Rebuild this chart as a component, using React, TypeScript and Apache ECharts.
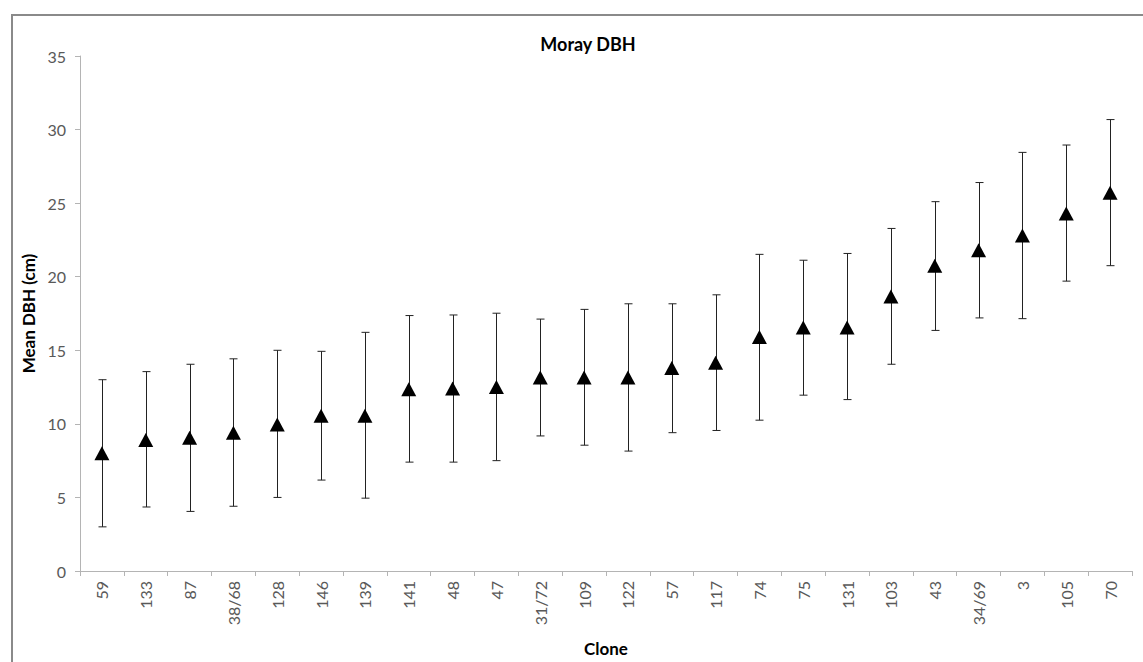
import React, { useEffect, useRef } from "react";
import * as echarts from "echarts";

const clones = ["59", "133", "87", "38/68", "128", "146", "139", "141", "48", "47", "31/72", "109", "122", "57", "117", "74", "75", "131", "103", "43", "34/69", "3", "105", "70"];
const meanDBH = [8.0, 8.9, 9.05, 9.4, 9.95, 10.55, 10.55, 12.35, 12.4, 12.5, 13.15, 13.15, 13.15, 13.8, 14.15, 15.9, 16.55, 16.55, 18.65, 20.75, 21.8, 22.8, 24.3, 25.7];
const lowerDBH = [3.0, 4.35, 4.05, 4.4, 5.0, 6.18, 4.95, 7.4, 7.4, 7.5, 9.18, 8.55, 8.15, 9.4, 9.55, 10.25, 11.95, 11.65, 14.05, 16.35, 17.2, 17.15, 19.7, 20.75];
const upperDBH = [13.0, 13.55, 14.05, 14.42, 15.0, 14.93, 16.22, 17.36, 17.4, 17.52, 17.12, 17.78, 18.16, 18.16, 18.77, 21.52, 21.12, 21.58, 23.28, 25.1, 26.4, 28.45, 28.95, 30.68];
const yTicks = { min: 0, max: 35, interval: 5 };

const FONT = "Lato, 'Open Sans', sans-serif";

export default function App() {
  const ref = useRef<HTMLDivElement>(null);
  useEffect(() => {
    if (!ref.current) return;
    const chart = echarts.init(ref.current, undefined, { renderer: "svg" });
    const errData = clones.map((_, i) => [i, lowerDBH[i], upperDBH[i]]);
    chart.setOption({
      animation: false,
      backgroundColor: "#ffffff",
      textStyle: { fontFamily: FONT },
      title: {
        text: "Moray DBH",
        left: 583,
        top: 30,
        textAlign: "center",
        textStyle: { fontFamily: FONT, fontSize: 18, fontWeight: "bold", color: "#000" },
      },
      graphic: [
        {
          type: "rect",
          shape: { x: 12, y: 15, width: 1200, height: 700 },
          style: { fill: "none", stroke: "#8a8a8a", lineWidth: 2 },
          silent: true,
        },
      ],
      grid: { left: 80, right: 11, top: 56, bottom: 83, containLabel: false },
      xAxis: {
        type: "category",
        data: clones,
        boundaryGap: true,
        name: "Clone",
        nameLocation: "middle",
        nameGap: 69,
        nameTextStyle: { fontFamily: FONT, fontSize: 17, fontWeight: "bold", color: "#000" },
        axisLine: { lineStyle: { color: "#b4b4b4", width: 1 } },
        axisTick: { show: true, length: 5, alignWithLabel: false, lineStyle: { color: "#b4b4b4" } },
        axisLabel: { rotate: 90, margin: 10, fontSize: 16, color: "#595959", fontFamily: FONT, interval: 0 },
        splitLine: { show: false },
      },
      yAxis: {
        type: "value",
        min: yTicks.min,
        max: yTicks.max,
        interval: yTicks.interval,
        name: "Mean DBH (cm)",
        nameLocation: "middle",
        nameGap: 42,
        nameTextStyle: { fontFamily: FONT, fontSize: 17, fontWeight: "bold", color: "#000" },
        axisLine: { show: true, lineStyle: { color: "#b4b4b4", width: 1 } },
        axisTick: { show: true, length: 5, lineStyle: { color: "#b4b4b4" } },
        axisLabel: { margin: 14, fontSize: 16, color: "#595959", fontFamily: FONT },
        splitLine: { show: false },
      },
      series: [
        {
          type: "custom",
          data: errData,
          encode: { x: 0, y: [1, 2] },
          z: 2,
          renderItem: (params: any, api: any) => {
            const x = api.value(0);
            const lo = api.coord([x, api.value(1)]);
            const hi = api.coord([x, api.value(2)]);
            const cx = Math.round(lo[0]) + 0.5;
            const w = 4;
            const style = { stroke: "#222", lineWidth: 1 };
            return {
              type: "group",
              children: [
                { type: "line", shape: { x1: cx, y1: hi[1], x2: cx, y2: lo[1] }, style },
                { type: "line", shape: { x1: cx - w, y1: hi[1], x2: cx + w, y2: hi[1] }, style },
                { type: "line", shape: { x1: cx - w, y1: lo[1], x2: cx + w, y2: lo[1] }, style },
              ],
            };
          },
        },
        {
          type: "scatter",
          data: meanDBH,
          symbol: "triangle",
          symbolSize: [15, 14],
          itemStyle: { color: "#000", opacity: 1 },
          z: 3,
        },
      ],
    });
    return () => chart.dispose();
  }, []);
  return <div ref={ref} style={{ position: "fixed", left: 0, top: 0, width: 1143, height: 662 }} />;
}
